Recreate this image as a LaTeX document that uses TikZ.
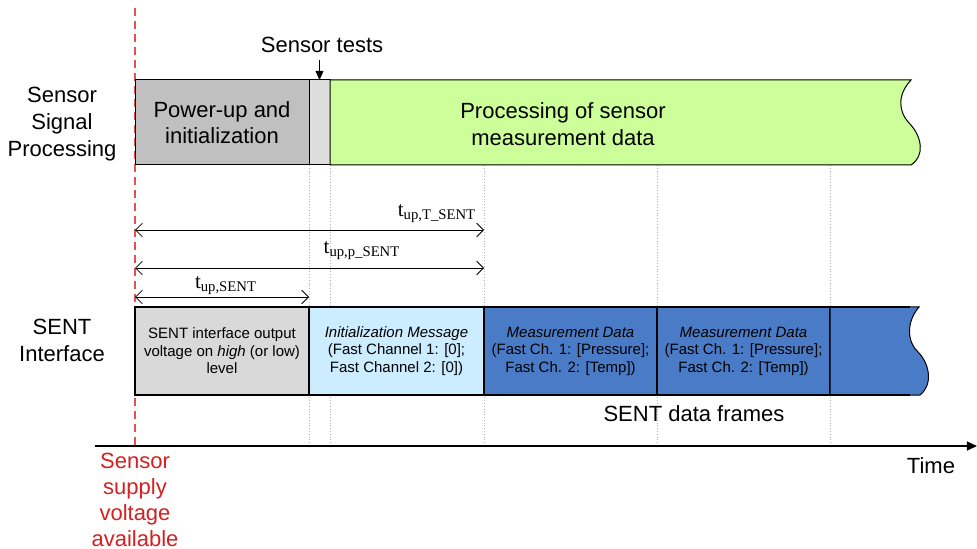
\documentclass[tikz,border=0pt]{standalone}
\usepackage{fontspec}
\setmainfont{Liberation Sans}
\newfontfamily\timesfont{Liberation Serif}
\usepackage{xcolor}
\usetikzlibrary{arrows.meta, positioning}

\definecolor{initgray}{HTML}{C0C0C0}
\definecolor{testgray}{HTML}{DDDDDD}
\definecolor{procgreen}{HTML}{CCFF99}
\definecolor{levelgray}{HTML}{D9D9D9}
\definecolor{msgblue}{HTML}{CCECFF}
\definecolor{sentblue}{HTML}{4A7BC6}
\definecolor{supplyred}{HTML}{D42020}
\definecolor{dashred}{HTML}{E85050}

\begin{document}
\begin{tikzpicture}[x=0.5pt, y=-0.5pt,
  lbl/.style={align=center, font=\fontsize{11}{13.5}\selectfont},
  phase/.style={draw, line width=0.5pt, minimum height=42.5pt, inner sep=0pt,
                outer sep=0pt, align=center, font=\fontsize{11}{13}\selectfont},
  frame/.style={draw, line width=1.2pt, minimum height=44pt, inner sep=0pt,
                outer sep=0pt, align=center, font=\fontsize{7.5}{8.75}\selectfont},
  grid/.style={densely dotted, gray!60, line width=0.4pt},
  dim/.style={{Straight Barb[length=1.2mm]}-{Straight Barb[length=1.2mm]}, line width=0.4pt},
  tlbl/.style={font=\timesfont\fontsize{10.5}{12}\selectfont, inner sep=1pt},
  arr/.style={-{Triangle[length=1.6mm, width=1.4mm]}, line width=0.5pt}
]
\useasboundingbox (0,0) rectangle (977,549);

\foreach \x in {309,330,484,657,830}
  \draw[grid] (\x,165) -- (\x,446);

% supply line
\coordinate (ax0) at (95,446);
\coordinate (ax1) at (977,446);
\coordinate (on) at (135,8);
\draw[draw=dashred, dash pattern=on 4pt off 2.5pt, line width=0.7pt] (on) -- (on |- ax0);

% sensor signal processing
\node[phase, fill=initgray, minimum width=87pt, anchor=north west] (pwr) at (135,80)
  {Power-up and\\initialization};
\node[phase, fill=testgray, minimum width=10.5pt, right=0pt of pwr] (tst) {};
\path[draw, fill=procgreen, line width=0.5pt] (tst.north east) -- (911,80)
  .. controls (897,95) and (898,112) .. (910,124)
  .. controls (922,137) and (925,156) .. (911,165) -- (tst.south east) -- cycle;
\node[lbl] (proc) at (563,124) {Processing of sensor\\measurement data};
\node[lbl] (stlbl) at (322,45) {Sensor tests};
\draw[arr] (tst.north |- stlbl.south) -- (tst.north);

% SENT interface
\node[frame, fill=levelgray, minimum width=87pt, anchor=north west] (pre) at (135,307)
  {SENT interface output\\voltage on \textit{high} (or low)\\level};
\node[frame, fill=msgblue, minimum width=87.5pt, right=0pt of pre] (init)
  {\textit{Initialization Message}\\(Fast Channel 1: [0];\\Fast Channel 2: [0])};
\node[frame, fill=sentblue, minimum width=86.5pt, right=0pt of init] (meas1)
  {\textit{Measurement Data}\\(Fast Ch. 1: [Pressure];\\Fast Ch. 2: [Temp])};
\node[frame, fill=sentblue, minimum width=86.5pt, right=0pt of meas1] (meas2)
  {\textit{Measurement Data}\\(Fast Ch. 1: [Pressure];\\Fast Ch. 2: [Temp])};
\path[draw, fill=sentblue, line width=0.5pt] (meas2.north east) -- (919,307)
  .. controls (906,322) and (907,342) .. (918,352)
  .. controls (930,364) and (933,385) .. (920,395) -- (meas2.south east) -- cycle;
\draw[line width=1.2pt] (meas2.north east) -- (910,307);
\draw[line width=1.2pt] (meas2.south east) -- (910,395);
\node[lbl] (frames) at (694,414) {SENT data frames};

% timing
\node[tlbl] (tT) at (437,214) {t\textsubscript{up,T\_SENT}};
\node[tlbl] (tp) at (362,251) {t\textsubscript{up,p\_SENT}};
\node[tlbl] (ts) at (226,286) {t\textsubscript{up,SENT}};
\draw[dim] (pwr.west |- 0,230) -- (init.east |- 0,230);
\draw[dim] (pwr.west |- 0,268) -- (init.east |- 0,268);
\draw[dim] (pwr.west |- 0,297) -- (pre.east |- 0,297);

% labels and axis
\node[lbl] (ssp) at (62,124) {Sensor\\Signal\\Processing};
\node[lbl] (sif) at (62,340) {SENT\\Interface};
\draw[-{Triangle[length=1.8mm, width=1.6mm]}, line width=0.8pt] (ax0) -- (ax1);
\node[lbl] (time) at (931,466) {Time};
\node[lbl, text=supplyred, font=\fontsize{11}{13}\selectfont] (supply) at (135,500)
  {Sensor\\supply\\voltage\\available};
\end{tikzpicture}
\end{document}
